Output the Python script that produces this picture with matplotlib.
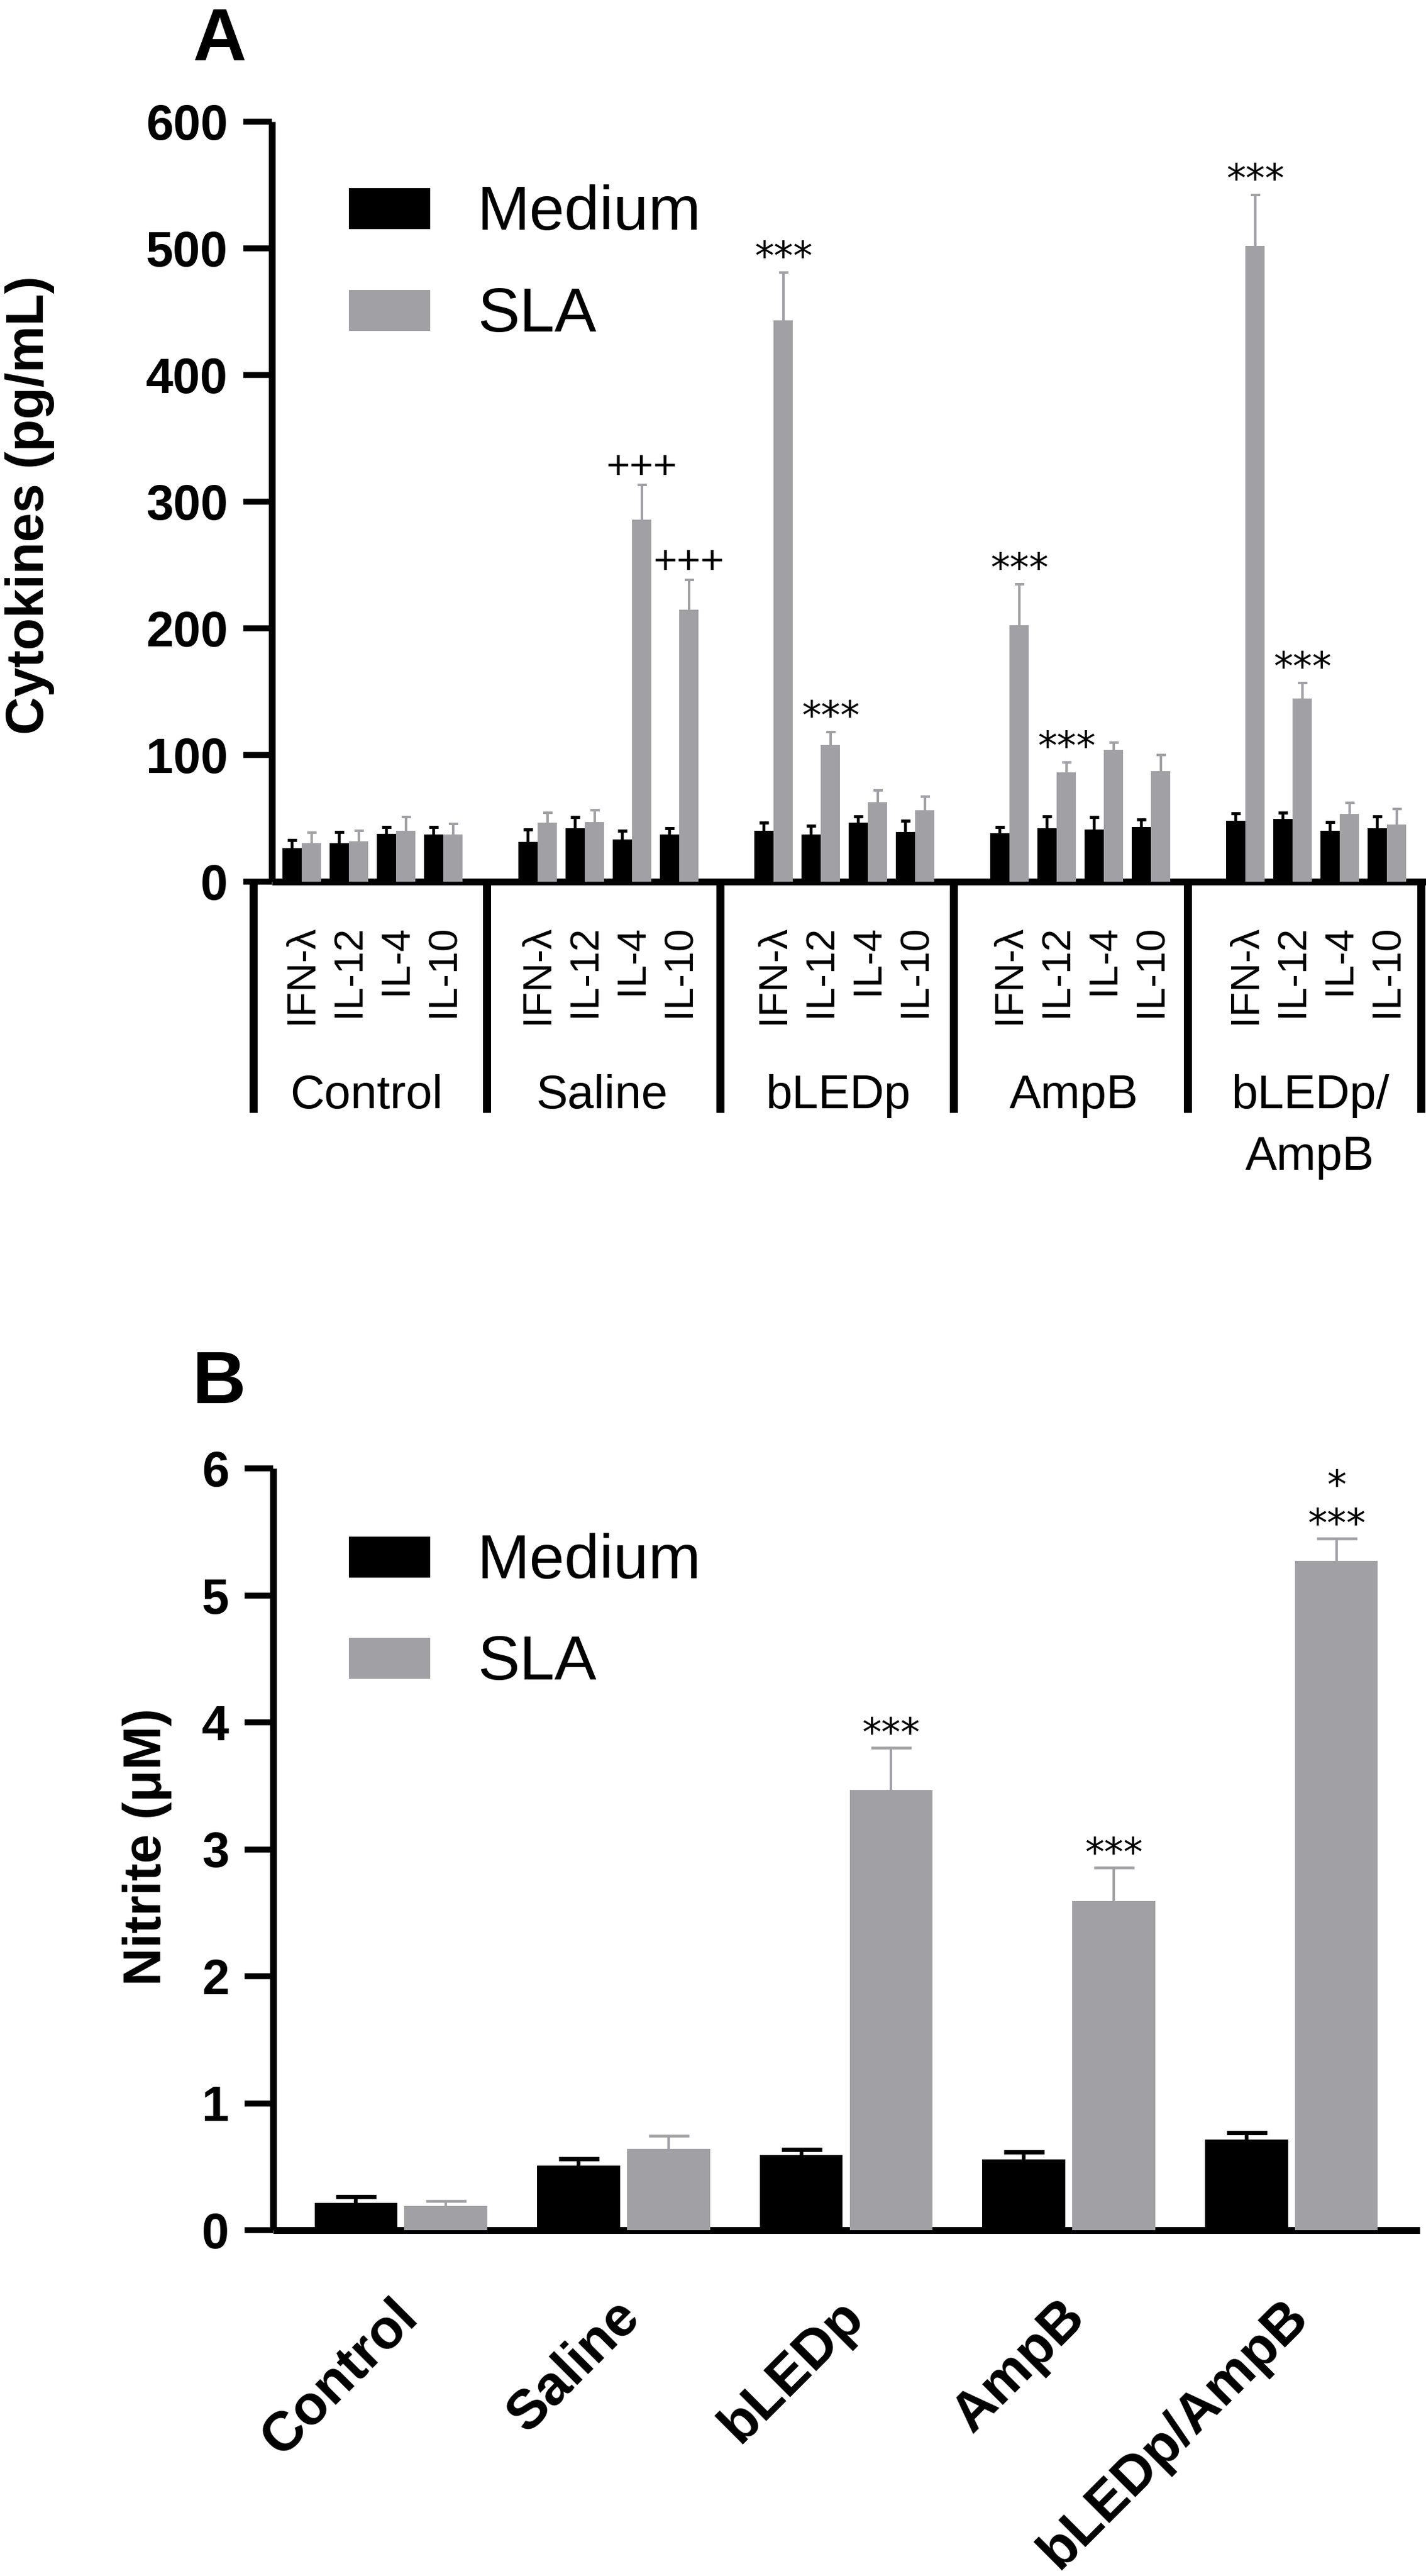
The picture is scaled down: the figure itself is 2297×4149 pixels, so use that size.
import matplotlib
matplotlib.use("Agg")
import matplotlib.pyplot as plt
import matplotlib.transforms as mtransforms
from matplotlib.patches import Rectangle
import numpy as np

plt.rcParams['font.family'] = ['Liberation Sans', 'DejaVu Sans']

# canvas is laid out in pixels of the target picture
W, H = 2297, 4149
DPI = 100
PT = 72 / DPI  # points per pixel

BLACK = '#000000'
GRAY = '#A1A1A5'

# ---------------- panel A data: cytokines (pg/mL) ----------------
cytokines = ['IFN-λ', 'IL-12', 'IL-4', 'IL-10']
groups_a = ['Control', 'Saline', 'bLEDp', 'AmpB', 'bLEDp/\nAmpB']

medium_a = [[26.5, 30.6, 37.9, 37.5],
            [31.5, 42.0, 33.4, 37.5],
            [40.0, 37.5, 46.5, 39.0],
            [38.3, 42.0, 41.0, 43.3],
            [47.8, 49.7, 40.0, 42.4]]
medium_a_err = [[6.5, 8.4, 5.4, 5.8],
                [9.5, 9.0, 6.6, 4.5],
                [6.5, 6.5, 5.0, 9.0],
                [5.0, 9.5, 10.0, 5.7],
                [6.2, 4.9, 7.0, 9.1]]
sla_a = [[30.6, 32.0, 40.0, 37.5],
         [46.5, 47.0, 285.8, 214.7],
         [443.0, 108.0, 62.8, 56.5],
         [202.4, 86.4, 104.0, 87.3],
         [502.0, 144.8, 53.3, 45.0]]
sla_a_err = [[8.2, 8.0, 11.0, 8.1],
             [8.1, 9.5, 27.2, 23.3],
             [38.0, 10.0, 9.5, 10.5],
             [32.2, 7.6, 6.0, 12.7],
             [40.0, 11.9, 9.1, 12.4]]
# (group, cytokine, mark) over the SLA bar
marks_a = [(1, 2, '+++'), (1, 3, '+++'),
           (2, 0, '***'), (2, 1, '***'),
           (3, 0, '***'), (3, 1, '***'),
           (4, 0, '***'), (4, 1, '***')]

# ---------------- panel B data: nitrite (uM) ----------------
groups_b = ['Control', 'Saline', 'bLEDp', 'AmpB', 'bLEDp/AmpB']
medium_b = [0.215, 0.511, 0.592, 0.558, 0.712]
medium_b_err = [0.049, 0.051, 0.046, 0.058, 0.057]
sla_b = [0.19, 0.643, 3.468, 2.593, 5.269]
sla_b_err = [0.04, 0.102, 0.332, 0.263, 0.178]
marks_b = [(2, '***'), (3, '***'), (4, '*\n***')]

series_names = ['Medium', 'SLA']


def px_rect(left, top, right, bottom):
    return [left / W, 1 - bottom / H, (right - left) / W, (bottom - top) / H]


def up_errorbar(ax, x, y, e, color, lw, cap, capw):
    eb = ax.errorbar(x, y, yerr=[np.zeros(len(e)), e], fmt='none', ecolor=color,
                     elinewidth=lw * PT, capsize=cap * PT / 2, capthick=capw * PT,
                     zorder=2)
    eb[1][0].set_visible(False)  # hide the lower cap, only upward bars


def style_axis(ax):
    for s in ['top', 'right']:
        ax.spines[s].set_visible(False)
    for s in ['left', 'bottom']:
        ax.spines[s].set_linewidth(11 * PT)
        ax.spines[s].set_capstyle('butt')
    ax.tick_params(axis='y', length=46 * PT, width=9.5 * PT, pad=25 * PT,
                   labelsize=57)
    for lab in ax.get_yticklabels():
        lab.set_fontweight('bold')


def legend_box(top_medium, top_sla):
    for top, name, col in [(top_medium, series_names[0], BLACK),
                           (top_sla, series_names[1], GRAY)]:
        fig.add_artist(Rectangle((562 / W, 1 - (top + 66) / H), 131 / W, 66 / H,
                                 transform=fig.transFigure, color=col, lw=0))
        fig.text(769 / W, 1 - (top + 67) / H, name, fontsize=73, va='baseline')


fig = plt.figure(figsize=(W / DPI, H / DPI), dpi=DPI)

# ====================== panel A ======================
axA = fig.add_axes(px_rect(438, 196, 2297, 1420))
ppu_a = (1420 - 196) / 600.0
n_c = len(cytokines)
xa = np.array([g * 5 + c for g in range(len(groups_a)) for c in range(n_c)], float)
med_a = np.ravel(medium_a)
sla_va = np.ravel(sla_a)
bw_a = 0.41
axA.bar(xa - 0.205, med_a, bw_a, color=BLACK, zorder=3, label=series_names[0])
axA.bar(xa + 0.205, sla_va, bw_a, color=GRAY, zorder=3, label=series_names[1])
up_errorbar(axA, xa - 0.205, med_a, np.ravel(medium_a_err), BLACK, 4.5, 15, 5)
up_errorbar(axA, xa + 0.205, sla_va, np.ravel(sla_a_err), GRAY, 4, 15, 4)

axA.set_xlim((438 - 486) / 76.0, (2297 - 486) / 76.0)
axA.set_ylim(0, 600)
axA.set_yticks(np.arange(0, 601, 100))
style_axis(axA)
axA.set_xticks(xa)
axA.set_xticklabels(cytokines * len(groups_a), rotation=90, fontsize=47)
axA.tick_params(axis='x', length=0, pad=70 * PT)

# group separators below the axis
sep_x = -1.03 + 4.95 * np.arange(len(groups_a) + 1)
axA.vlines(sep_x, -(1792 - 1420) / ppu_a, 0, colors=BLACK, lw=13 * PT,
           clip_on=False)
for g, name in enumerate(groups_a):
    axA.annotate(name, (g * 5 + 1.5, 0), xytext=(-10 * PT, -(1730 - 1420) * PT),
                 textcoords='offset points', ha='center', va='top', fontsize=55,
                 linespacing=1.5, annotation_clip=False)

for g, c, txt in marks_a:
    top = sla_a[g][c] + sla_a_err[g][c]
    if txt == '+++':
        axA.annotate(txt, (g * 5 + c + 0.205, top), xytext=(0, 10 * PT),
                     textcoords='offset points', ha='center', va='baseline',
                     fontsize=47)
    else:
        axA.annotate(txt, (g * 5 + c + 0.205, top), xytext=(0, 5 * PT),
                     textcoords='offset points', ha='center', va='baseline',
                     fontsize=45, family='DejaVu Sans')

legend_box(303, 467)
fig.text(310 / W, 1 - 97 / H, 'A', fontsize=86, fontweight='bold', va='baseline')
fig.text(48 / W, 1 - 814 / H, 'Cytokines (pg/mL)', rotation=90, ha='center',
         va='center', fontsize=61, fontweight='bold')

# ====================== panel B ======================
axB = fig.add_axes(px_rect(440, 2365, 2287, 3592))
xb = np.arange(len(groups_b), dtype=float)
bw_b = 0.373
axB.bar(xb - 0.202, medium_b, bw_b, color=BLACK, zorder=3, label=series_names[0])
axB.bar(xb + 0.202, sla_b, bw_b, color=GRAY, zorder=3, label=series_names[1])
up_errorbar(axB, xb - 0.202, medium_b, medium_b_err, BLACK, 6, 65, 7)
up_errorbar(axB, xb + 0.202, sla_b, sla_b_err, GRAY, 4, 65, 4.5)

axB.set_xlim(-0.574, 4.577)
axB.set_ylim(0, 6)
axB.set_yticks(np.arange(0, 7, 1))
style_axis(axB)
axB.set_xticks(xb)
axB.set_xticklabels(groups_b, rotation=45, ha='right', va='baseline',
                    rotation_mode='anchor', fontsize=64, fontweight='bold')
axB.tick_params(axis='x', length=0, pad=143 * PT)
shift = mtransforms.ScaledTranslation(30 / DPI, 0, fig.dpi_scale_trans)
for lab in axB.get_xticklabels():
    lab.set_transform(lab.get_transform() + shift)

for g, txt in marks_b:
    top = sla_b[g] + sla_b_err[g]
    axB.annotate(txt, (g + 0.202, top), xytext=(0, -10 * PT),
                 textcoords='offset points', ha='center', va='bottom',
                 multialignment='center', linespacing=1.05,
                 fontsize=45, family='DejaVu Sans')

legend_box(2475, 2638)
fig.text(310 / W, 1 - 2260 / H, 'B', fontsize=86, fontweight='bold', va='baseline')
fig.text(237 / W, 1 - 2975 / H, 'Nitrite (μM)', rotation=90, ha='center',
         va='center', fontsize=61, fontweight='bold')

fig.savefig('out.png', dpi=DPI)
